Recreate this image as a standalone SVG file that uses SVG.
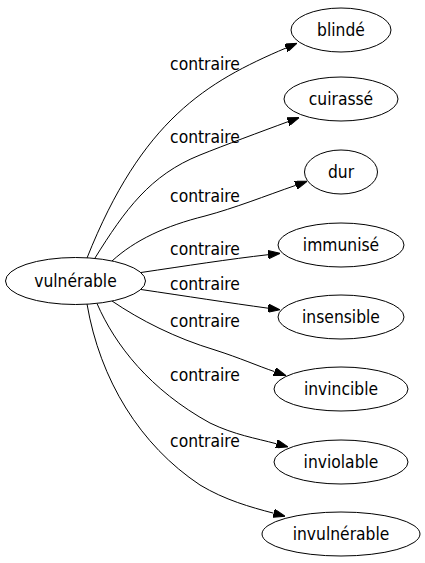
<svg xmlns="http://www.w3.org/2000/svg" width="425" height="563" viewBox="0 0 425 563">
<style>
.n ellipse{fill:#fff;stroke:#000;stroke-width:1}
text{font-family:'DejaVu Sans Condensed','DejaVu Sans',sans-serif;font-stretch:condensed;font-size:17.3px;fill:#000;text-anchor:middle}
.e path{fill:none;stroke:#000;stroke-width:1;marker-end:url(#ah)}
</style>
<defs>
<marker id="ah" markerUnits="userSpaceOnUse" viewBox="0 0 12 8.4" markerWidth="12" markerHeight="8.4" refX="0" refY="4.2" orient="auto">
<path d="M0,0 L12,4.2 L0,8.4 z" fill="#000" stroke="#000" stroke-width="1"/>
</marker>
</defs>
<rect width="425" height="563" fill="#fff"/>
<g id="edges" class="e">
<path d="M87,258 C142,120 206,82 286,48"/>
<path d="M95,258 C125,210 150,175 200,155 C225,145 260,132 288,121.7"/>
<path d="M112,261 C135,240 165,226 205,216 C235,208 265,196 295.8,185.3"/>
<path d="M141,272.5 C185,266 230,259 268.1,254.7"/>
<path d="M141,289.5 C185,296 230,303 268.1,308.2"/>
<path d="M112,301 C140,320 175,338 215,350 C240,358 258,366 274.5,371.6"/>
<path d="M97,303.5 C115,345 150,390 210,423 C235,435 255,438 276.5,443.8"/>
<path d="M87,304 C100,380 140,445 200,485 C225,500 250,507 273.6,513.2"/>
</g>
<g id="edge-labels">
<text x="205" y="69.5">contraire</text>
<text x="205" y="143">contraire</text>
<text x="205" y="201.5">contraire</text>
<text x="205" y="255">contraire</text>
<text x="205" y="290">contraire</text>
<text x="205" y="326.5">contraire</text>
<text x="205" y="380.5">contraire</text>
<text x="205" y="447">contraire</text>
</g>
<g id="n-vulnerable" class="n"><ellipse cx="75.5" cy="281" rx="70" ry="23.5"/><text x="75.5" y="287">vulnérable</text></g>
<g id="n-blinde" class="n"><ellipse cx="341" cy="30" rx="50" ry="22"/><text x="341" y="36">blindé</text></g>
<g id="n-cuirasse" class="n"><ellipse cx="341" cy="99" rx="57" ry="22"/><text x="341" y="105">cuirassé</text></g>
<g id="n-dur" class="n"><ellipse cx="341" cy="172" rx="36.5" ry="22"/><text x="341" y="178">dur</text></g>
<g id="n-immunise" class="n"><ellipse cx="341" cy="245" rx="63" ry="22"/><text x="341" y="251">immunisé</text></g>
<g id="n-insensible" class="n"><ellipse cx="341" cy="317" rx="63" ry="22"/><text x="341" y="323">insensible</text></g>
<g id="n-invincible" class="n"><ellipse cx="341" cy="389" rx="67" ry="22"/><text x="341" y="395">invincible</text></g>
<g id="n-inviolable" class="n"><ellipse cx="341" cy="462" rx="67" ry="22"/><text x="341" y="468">inviolable</text></g>
<g id="n-invulnerable" class="n"><ellipse cx="341" cy="534" rx="79" ry="22"/><text x="341" y="540">invulnérable</text></g>
</svg>
